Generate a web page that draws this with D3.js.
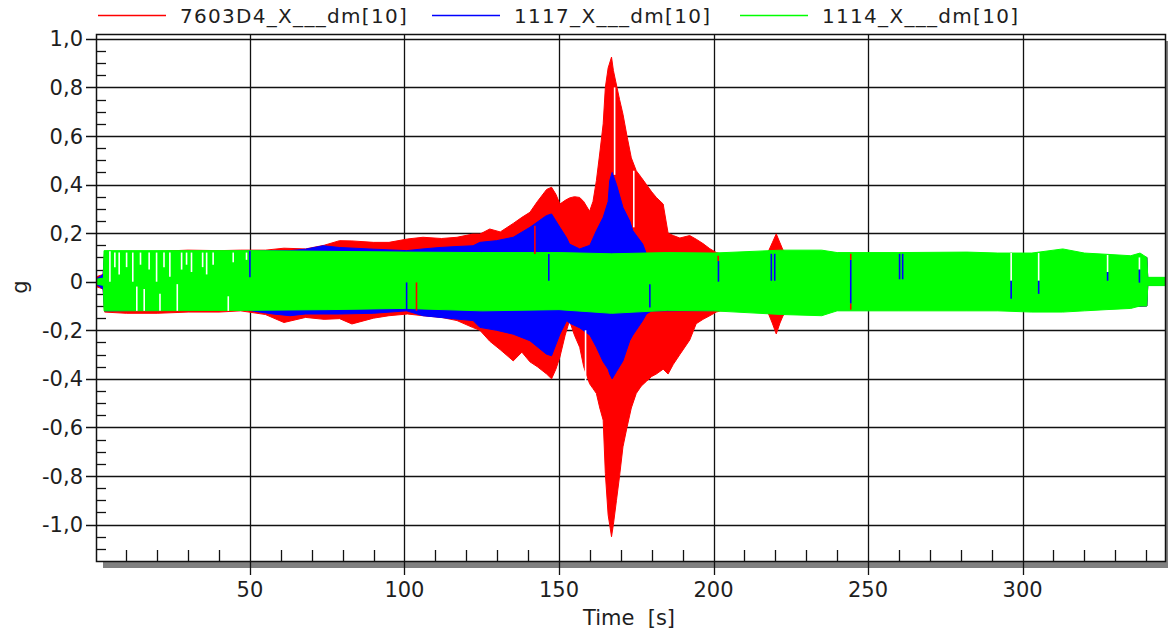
<!DOCTYPE html>
<html><head><meta charset="utf-8">
<script src="https://cdn.jsdelivr.net/npm/d3@7"></script>
<style>
body{margin:0;background:#fff}
svg{display:block}
text{font-family:"DejaVu Sans",Verdana,sans-serif;fill:#1e1e1e;white-space:pre}
</style>
</head><body>
<svg id="chart" width="1168" height="632"></svg>
<script>
// ---------- data ----------
const seriesNames  = ["7603D4_X___dm[10]", "1117_X___dm[10]", "1114_X___dm[10]"];
const seriesColors = ["#ff0000", "#0000ff", "#00ff00"];

const xTickValues = [50, 100, 150, 200, 250, 300];
const xTickLabels = ["50", "100", "150", "200", "250", "300"];
const yTickValues = [1.0, 0.8, 0.6, 0.4, 0.2, 0, -0.2, -0.4, -0.6, -0.8, -1.0];
const yTickLabels = ["1,0", "0,8", "0,6", "0,4", "0,2", "0", "-0,2", "-0,4", "-0,6", "-0,8", "-1,0"];
const xTitle = "Time  [s]";
const yTitle = "g";

// red series envelope (time s, upper g, lower g)
const redTime  = [0.2,2.5,3.0,10,20,30,40,47,55,61, 68,74,79,83,90,95,101,106,112,117,
  122,124.4,127.6,131,135.2,138,140.6,143,146,147.6, 149,150.3,152,153.4,155,156.7,158,159.9,161,162.1,
  163.2,164.3,165.0,165.9,167.0,167.6,168.6,169.6,170.7,172, 173.4,175,176.6,178.3,180,181.5,183.7,185.3,187,189.1,
  192.3,194.4,196.6,198.8,200.9,202.2,210,217.4,219,220.3, 221.5,222.5,224.7,260,300,340.2,340.5,346.4];
const redUpper = [0.02,0.03,0.125,0.125,0.125,0.13,0.128,0.13,0.13,0.138, 0.135,0.15,0.169,0.168,0.162,0.162,0.176,0.183,0.178,0.183,
  0.196,0.196,0.217,0.205,0.24,0.265,0.286,0.33,0.38,0.389, 0.36,0.32,0.335,0.345,0.35,0.347,0.33,0.29,0.33,0.416,
  0.53,0.65,0.80,0.88,0.925,0.87,0.81,0.75,0.69,0.60, 0.51,0.457,0.43,0.40,0.37,0.347,0.32,0.20,0.19,0.18,
  0.19,0.175,0.157,0.136,0.12,0.115,0.11,0.115,0.16,0.197, 0.16,0.13,0.11,0.115,0.115,0.10,0.015,0.015];
const redLower = [-0.02,-0.03,-0.125,-0.13,-0.13,-0.125,-0.125,-0.12,-0.135,-0.168, -0.147,-0.155,-0.152,-0.174,-0.15,-0.14,-0.133,-0.14,-0.147,-0.16,
  -0.188,-0.2,-0.245,-0.28,-0.326,-0.29,-0.33,-0.35,-0.38,-0.40, -0.36,-0.31,-0.22,-0.16,-0.22,-0.27,-0.35,-0.42,-0.44,-0.46,
  -0.52,-0.57,-0.79,-0.96,-1.05,-1.0,-0.90,-0.80,-0.68,-0.60, -0.52,-0.46,-0.43,-0.41,-0.39,-0.38,-0.36,-0.38,-0.34,-0.30,
  -0.24,-0.173,-0.155,-0.14,-0.125,-0.12,-0.115,-0.12,-0.17,-0.215, -0.17,-0.14,-0.115,-0.115,-0.115,-0.10,-0.015,-0.015];

// blue series envelope
const blueTime  = [0.2,2.5,3.0,47,57.5,63,68,73.7,79,90, 100.7,106,111.5,117,122.2,124.4,129.8,135.2,140.6,145.9,
  147.6,150.3,152.5,153.4,156.7,160,162.1,164.3,165.9,166.4, 167.2,168.6,170.7,172.9,173.9,177.1,178.3,180,260,340.2,
  340.5,346.4];
const blueUpper = [0.01,0.03,0.12,0.125,0.128,0.128,0.134,0.148,0.141,0.134, 0.128,0.135,0.141,0.145,0.148,0.162,0.169,0.183,0.224,0.272,
  0.279,0.224,0.18,0.155,0.135,0.15,0.21,0.265,0.33,0.416, 0.45,0.40,0.306,0.25,0.21,0.155,0.114,0.11,0.11,0.10,
  0.015,0.015];
const blueLower = [-0.01,-0.03,-0.12,-0.113,-0.133,-0.14,-0.133,-0.133,-0.133,-0.13, -0.12,-0.14,-0.147,-0.154,-0.16,-0.188,-0.20,-0.216,-0.243,-0.298,
  -0.305,-0.216,-0.16,-0.17,-0.19,-0.22,-0.27,-0.33,-0.36,-0.38, -0.40,-0.37,-0.326,-0.243,-0.22,-0.16,-0.133,-0.12,-0.115,-0.10,
  -0.015,-0.015];

// green series envelope
const greenTime  = [0.2,2.6,2.8,50,75,100,125,150,167,185,200,222,235,240,260,282,292,303,313,320,327,335,338,340.2,340.5,346.4];
const greenUpper = [0.01,0.015,0.128,0.128,0.125,0.122,0.12,0.12,0.115,0.12,0.118,0.13,0.13,0.12,0.12,0.122,0.118,0.118,0.135,0.118,0.113,0.107,0.118,0.10,0.018,0.018];
const greenLower = [-0.01,-0.015,-0.12,-0.118,-0.115,-0.11,-0.12,-0.115,-0.13,-0.118,-0.12,-0.135,-0.14,-0.12,-0.12,-0.12,-0.12,-0.125,-0.125,-0.12,-0.115,-0.11,-0.10,-0.10,-0.016,-0.016];

// white gaps (time, top, bottom)
const gapTime   = [4.7,6.3,7.7,10.1,12.1,13.4,14.6,15.8,17.4,19.8,20.9,22.2,24.1,26.5,27.9,29.5,31.1,34.7,36,38.1,43,44.6,48.9, 158.6,168,174.2, 296.3,305.2,327.5,337.8];
const gapTop    = [0.125,0.12,0.12,0.12,0.12,-0.02,0.12,-0.03,0.12,0.12,-0.05,0.12,0.12,-0.01,0.12,0.12,0.12,0.12,0.12,0.12,-0.06,0.12,0.12, -0.2,0.80,0.457, 0.118,0.118,0.11,0.10];
const gapBottom = [0.0,0.06,0.03,0.06,0.0,-0.12,0.07,-0.12,0.05,0.0,-0.12,0.06,0.02,-0.12,0.05,0.07,0.04,0.06,0.03,0.07,-0.12,0.08,0.09, -0.42,0.44,0.224, 0.004,0.004,0.04,0.05];

// coloured spikes (series index, time, top, bottom)
const spikeSeries = [1,1,0,0,1,1,0,1,1,1,1,0,1,0,1,1,1,1,1];
const spikeTime   = [50,100.7,103.9,142.2,146.7,179.4,201.5,201.6,218.7,219.8,244.4,244.4,260.2,244.4,261.2,296.3,305.2,327.5,337.8];
const spikeTop    = [0.128,-0.003,-0.003,0.23,0.114,-0.01,0.107,0.085,0.115,0.115,0.09,0.115,0.115,-0.09,0.115,0.004,0.004,0.04,0.05];
const spikeBottom = [0.018,-0.12,-0.12,0.114,0.004,-0.106,0.085,0.0,0.004,0.004,-0.09,0.09,0.01,-0.115,0.01,-0.07,-0.05,0.004,-0.004];

// ---------- layout ----------
const L = 96, R = 1166, T = 34, B = 561;
const svg = d3.select("#chart");
const x = d3.scaleLinear().domain([0.2, 346.4]).range([L, R]);
const y = d3.scaleLinear().domain([-1.15, 1.02]).range([B, T]);

// shadow
svg.append("rect").attr("x", L + 7).attr("y", T + 7).attr("width", R - L).attr("height", B - T).attr("fill", "#808080");
svg.append("rect").attr("x", L).attr("y", T).attr("width", R - L).attr("height", B - T).attr("fill", "#fff");

svg.append("clipPath").attr("id", "clip").append("rect").attr("x", L).attr("y", T).attr("width", R - L).attr("height", B - T);

// grid
const grid = svg.append("g").attr("stroke", "#111").attr("stroke-width", 1.3);
grid.selectAll(".hy").data(yTickValues).join("line")
  .attr("x1", L - 10).attr("x2", R).attr("y1", d => Math.round(y(d)) + 0.5).attr("y2", d => Math.round(y(d)) + 0.5);
grid.selectAll(".vx").data(xTickValues).join("line")
  .attr("y1", T).attr("y2", B + 14).attr("x1", d => Math.round(x(d)) + 0.5).attr("x2", d => Math.round(x(d)) + 0.5);

// minor ticks
const yMinor = d3.range(-22, 21).map(i => i * 0.05).filter(v => Math.abs(Math.round(v * 5) - v * 5) > 1e-6 && v > -1.15 && v < 1.02);
svg.append("g").attr("stroke", "#111").attr("stroke-width", 1.3).selectAll("line").data(yMinor).join("line")
  .attr("x1", L).attr("x2", L + 10).attr("y1", d => Math.round(y(d)) + 0.5).attr("y2", d => Math.round(y(d)) + 0.5);
const xMinor = d3.range(10, 346, 10).filter(v => v % 50 !== 0);
svg.append("g").attr("stroke", "#111").attr("stroke-width", 1.3).selectAll("line").data(xMinor).join("line")
  .attr("y1", B).attr("y2", B - 11).attr("x1", d => Math.round(x(d)) + 0.5).attr("x2", d => Math.round(x(d)) + 0.5);

// data
const plot = svg.append("g").attr("clip-path", "url(#clip)");
const envelopes = [[redTime, redUpper, redLower], [blueTime, blueUpper, blueLower], [greenTime, greenUpper, greenLower]];
envelopes.forEach(([tt, up, lo], k) => {
  const area = d3.area().x(i => x(tt[i])).y0(i => y(lo[i])).y1(i => y(up[i]));
  plot.append("path").datum(d3.range(tt.length)).attr("d", area)
    .attr("fill", seriesColors[k]).attr("stroke", seriesColors[k]).attr("stroke-width", 1);
});
plot.append("g").selectAll("line").data(d3.range(gapTime.length)).join("line")
  .attr("x1", i => x(gapTime[i])).attr("x2", i => x(gapTime[i]))
  .attr("y1", i => y(gapTop[i])).attr("y2", i => y(gapBottom[i]))
  .attr("stroke", "#fff").attr("stroke-width", 1.6);
plot.append("g").selectAll("line").data(d3.range(spikeTime.length)).join("line")
  .attr("x1", i => x(spikeTime[i])).attr("x2", i => x(spikeTime[i]))
  .attr("y1", i => y(spikeTop[i])).attr("y2", i => y(spikeBottom[i]))
  .attr("stroke", i => seriesColors[spikeSeries[i]]).attr("stroke-width", 1.6);

// frame
svg.append("rect").attr("x", L + 0.5).attr("y", T + 0.5).attr("width", R - L - 1).attr("height", B - T)
  .attr("fill", "none").attr("stroke", "#111").attr("stroke-width", 1.5);

// axes labels
svg.append("g").selectAll("text").data(yTickValues).join("text")
  .attr("x", 83).attr("y", d => y(d)).attr("dy", "0.36em").attr("text-anchor", "end")
  .style("font-size", "21px").text((d, i) => yTickLabels[i]);
svg.append("g").selectAll("text").data(xTickValues).join("text")
  .attr("x", d => x(d)).attr("y", 597).attr("text-anchor", "middle")
  .style("font-size", "21px").text((d, i) => xTickLabels[i]);
svg.append("text").attr("x", 629).attr("y", 625).attr("text-anchor", "middle").style("font-size", "21px").text(xTitle);
svg.append("text").attr("transform", "translate(27,287) rotate(-90)").attr("text-anchor", "middle").style("font-size", "21px").text(yTitle);

// legend
const legX = [98, 432, 740];
const lg = svg.append("g");
seriesNames.forEach((n, k) => {
  lg.append("line").attr("x1", legX[k]).attr("x2", legX[k] + 68).attr("y1", 15.5).attr("y2", 15.5)
    .attr("stroke", seriesColors[k]).attr("stroke-width", 1.5);
  lg.append("text").attr("x", legX[k] + 82).attr("y", 23).style("font-size", "20px").style("letter-spacing", "1.3px").text(n);
});
</script>
</body></html>
